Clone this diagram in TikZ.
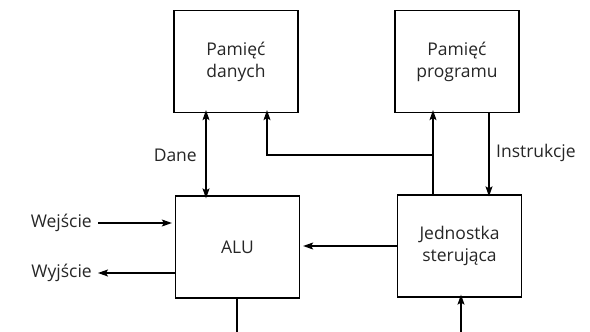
\documentclass[tikz,border=0pt]{standalone}
\usepackage{fontspec}
\setmainfont{Open Sans}
\usetikzlibrary{arrows.meta}
\begin{document}
\begin{tikzpicture}[x=1pt,y=-1pt,
  blk/.style={draw, line width=1.3pt, minimum width=124pt, minimum height=102pt, inner sep=0pt, align=center, font=\fontsize{17.5}{22}\selectfont, text=black!85},
  lbl/.style={font=\fontsize{17.5}{22}\selectfont, text=black!85, inner sep=1pt},
  conn/.style={line width=1.2pt},
  arr/.style={conn, -{Stealth[length=10pt,width=7pt,inset=2pt]}},
  darr/.style={conn, {Stealth[length=10pt,width=7pt,inset=2pt]}-{Stealth[length=10pt,width=7pt,inset=2pt]}}]
\useasboundingbox (0,0) rectangle (590,332);
\node[blk] (pd) at (236,61.5) {Pamięć\\danych};
\node[blk] (pp) at (457,61.5) {Pamięć\\programu};
\node[blk] (alu) at (237.5,247) {ALU};
\node[blk] (js) at (459.5,246) {Jednostka\\sterująca};
% Dane
\coordinate (dx) at (206,0);
\draw[darr] ([yshift=3pt]pd.south -| dx) -- ([yshift=-3pt]alu.north -| dx);
\node[lbl, anchor=east] (dane) at (198,155) {Dane};
% bus from control unit
\coordinate (j) at (433,155);
\coordinate (k) at (267,0);
\draw[arr] (js.north -| j) -- ([yshift=3pt]pp.south -| j);
\draw[arr] (j) -| ([yshift=3pt]pd.south -| k);
% Instrukcje
\coordinate (ix) at (489,0);
\draw[arr] (pp.south -| ix) -- ([yshift=-2pt]js.north -| ix);
\node[lbl, anchor=west] (instr) at (495,153) {Instrukcje};
% control to ALU
\draw[arr] (js.west) -- ([xshift=3pt]js.west -| alu.east);
% input / output
\node[lbl, anchor=east] (we) at (93,223) {Wejście};
\node[lbl, anchor=east] (wy) at (93,273) {Wyjście};
\draw[arr] ([xshift=5pt]we.east) -- ([xshift=-3pt]alu.west |- we.east);
\draw[arr] (alu.west |- wy.east) -- ([xshift=5pt]wy.east);
% bottom
\coordinate (ab) at (237,332);
\coordinate (jb) at (461,332);
\draw[conn] (alu.south -| ab) -- (ab);
\draw[arr] (jb) -- ([yshift=3pt]js.south -| jb);
\end{tikzpicture}
\end{document}
